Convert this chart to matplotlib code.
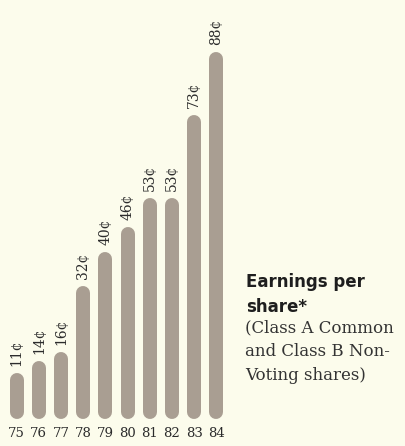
import matplotlib
matplotlib.use('Agg')
import matplotlib.pyplot as plt

# earnings per share by year, in cents
years = ['75', '76', '77', '78', '79', '80', '81', '82', '83', '84']
cents = [11, 14, 16, 32, 40, 46, 53, 53, 73, 88]
value_labels = [f'{c}\u00a2' for c in cents]

bg = '#fcfcec'
bar_color = '#a99e92'
ink = '#2b2b2b'

W, H, DPI = 406, 446, 100
fig = plt.figure(figsize=(W / DPI, H / DPI), dpi=DPI, facecolor=bg)

# axes placed in pixel terms: 22.2 px per bar slot, ~4.17 px per cent
ax = fig.add_axes([0, 27 / H, 233 / W, 417 / H])
ax.set_facecolor(bg)
ax.set_xlim(-0.75, 9.75)
ax.set_ylim(0, 100)
for s in ax.spines.values():
    s.set_visible(False)
ax.set_yticks([])

bar_px = 14
px_per_cent = 417 / 100
r = (bar_px / 2) / px_per_cent
lw = bar_px * 72 / DPI

for i, (c, lab) in enumerate(zip(cents, value_labels)):
    ax.plot([i, i], [r, c - r], color=bar_color, lw=lw,
            solid_capstyle='round')
    ax.annotate(lab, (i, c), xytext=(0, 5), textcoords='offset points',
                rotation=90, ha='center', va='bottom', color=ink,
                family='DejaVu Serif', fontsize=10)

ax.set_xticks(range(len(years)))
ax.set_xticklabels(years, family='DejaVu Serif', fontsize=9.5, color=ink)
ax.tick_params(axis='x', length=0, pad=6)

fig.text(246 / W, 1 - 287 / H, 'Earnings per', family='DejaVu Sans',
         weight='bold', fontsize=12, color='#1e1e1e')
fig.text(246 / W, 1 - 312 / H, 'share*', family='DejaVu Sans',
         weight='bold', fontsize=12, color='#1e1e1e')

body = ['(Class A Common', 'and Class B Non-', 'Voting shares)']
for k, line in enumerate(body):
    fig.text(245 / W, 1 - (332 + 24 * k) / H, line, family='DejaVu Serif',
             fontsize=12, color='#333333')

fig.savefig('out.png', dpi=DPI, facecolor=bg)
